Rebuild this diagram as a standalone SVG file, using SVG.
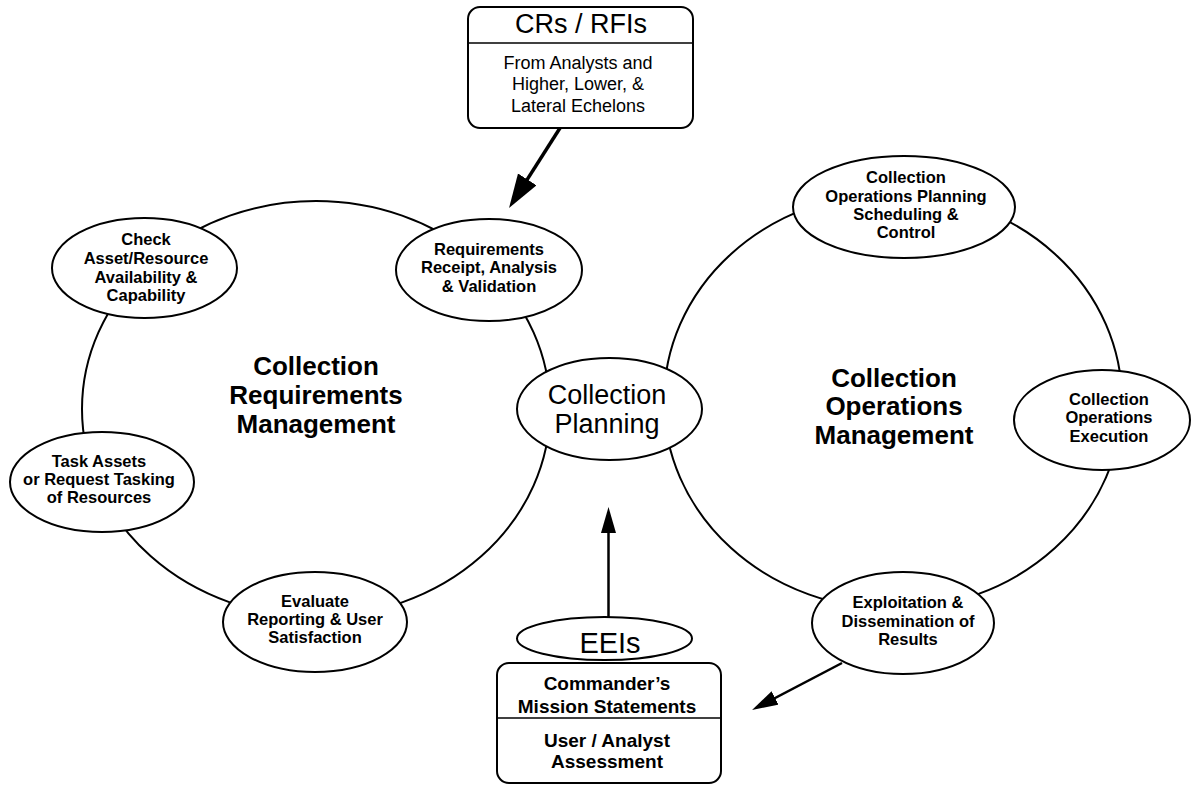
<svg xmlns="http://www.w3.org/2000/svg" width="1191" height="785" viewBox="0 0 1191 785">
<style>
.bg{fill:#fff}
.ring{fill:none;stroke:#000;stroke-width:2}
.node{fill:#fff;stroke:#000;stroke-width:2}
.t{font-family:"Liberation Sans",Arial,Helvetica,sans-serif;font-weight:bold;font-size:16.5px;text-anchor:middle;fill:#000}
.big{font-family:"Liberation Sans",Arial,Helvetica,sans-serif;font-weight:bold;font-size:26px;text-anchor:middle;fill:#000}
.reg{font-family:"Liberation Sans",Arial,Helvetica,sans-serif;font-weight:normal;text-anchor:middle;fill:#000}
.bx{font-family:"Liberation Sans",Arial,Helvetica,sans-serif;font-weight:bold;font-size:19px;text-anchor:middle;fill:#000}
.conn{fill:none;stroke:#000;stroke-width:2.5}
.div{stroke:#000;stroke-width:1.5}
</style>
<defs>
<marker id="headL" markerUnits="userSpaceOnUse" markerWidth="36" markerHeight="24" refX="24" refY="11" orient="auto">
<path d="M0,0 L34,11 L0,22 z" fill="#000"/>
</marker>
<marker id="headM" markerUnits="userSpaceOnUse" markerWidth="28" markerHeight="16" refX="16" refY="7.5" orient="auto">
<path d="M0,0 L26,7.5 L0,15 z" fill="#000"/>
</marker>
</defs>
<rect class="bg" x="0" y="0" width="1191" height="785"/>

<g id="ring-requirements">
<ellipse class="ring" cx="316" cy="409" rx="234" ry="208"/>
<text class="big" x="316" y="375">Collection</text>
<text class="big" x="316" y="404">Requirements</text>
<text class="big" x="316" y="433">Management</text>
</g>

<g id="ring-operations">
<ellipse class="ring" cx="893" cy="401" rx="229" ry="208"/>
<text class="big" x="894" y="387">Collection</text>
<text class="big" x="894" y="415">Operations</text>
<text class="big" x="894" y="444">Management</text>
</g>

<g id="connectors">
<line class="conn" style="stroke-width:3.5" x1="560" y1="128" x2="514.4" y2="199.6" marker-end="url(#headL)"/>
<line class="conn" x1="608.5" y1="617" x2="608.5" y2="517" marker-end="url(#headM)"/>
<line class="conn" x1="842" y1="663" x2="760.9" y2="705.4" marker-end="url(#headM)"/>
</g>

<g id="crs-rfis">
<rect class="node" x="468" y="7" width="225" height="121" rx="12"/>
<line class="div" x1="468" y1="43" x2="693" y2="43"/>
<text class="reg" x="581" y="33" font-size="27">CRs / RFIs</text>
<text class="reg" x="578" y="69" font-size="18">From Analysts and</text>
<text class="reg" x="578" y="90" font-size="18">Higher, Lower, &amp;</text>
<text class="reg" x="578" y="112" font-size="18">Lateral Echelons</text>
</g>

<g id="check-asset">
<ellipse class="node" cx="144.5" cy="268" rx="92.5" ry="50"/>
<text class="t" x="146" y="245">Check</text>
<text class="t" x="146" y="264">Asset/Resource</text>
<text class="t" x="146" y="282.5">Availability &amp;</text>
<text class="t" x="146" y="301">Capability</text>
</g>

<g id="requirements-receipt">
<ellipse class="node" cx="489" cy="270" rx="93" ry="51"/>
<text class="t" x="489" y="255">Requirements</text>
<text class="t" x="489" y="273">Receipt, Analysis</text>
<text class="t" x="489" y="292">&amp; Validation</text>
</g>

<g id="task-assets">
<ellipse class="node" cx="102" cy="482" rx="92" ry="50"/>
<text class="t" x="99" y="467">Task Assets</text>
<text class="t" x="99" y="485">or Request Tasking</text>
<text class="t" x="99" y="503">of Resources</text>
</g>

<g id="evaluate-reporting">
<ellipse class="node" cx="315" cy="622" rx="92" ry="50"/>
<text class="t" x="315" y="607">Evaluate</text>
<text class="t" x="315" y="625">Reporting &amp; User</text>
<text class="t" x="315" y="643">Satisfaction</text>
</g>

<g id="collection-planning">
<ellipse class="node" cx="609.5" cy="409" rx="92.5" ry="51"/>
<text class="reg" x="607" y="404" font-size="27">Collection</text>
<text class="reg" x="607" y="433" font-size="27">Planning</text>
</g>

<g id="ops-planning">
<ellipse class="node" cx="904" cy="207" rx="111" ry="51"/>
<text class="t" x="906" y="183">Collection</text>
<text class="t" x="906" y="202">Operations Planning</text>
<text class="t" x="906" y="220">Scheduling &amp;</text>
<text class="t" x="906" y="238">Control</text>
</g>

<g id="ops-execution">
<ellipse class="node" cx="1102" cy="420" rx="88" ry="50"/>
<text class="t" x="1109" y="405">Collection</text>
<text class="t" x="1109" y="423">Operations</text>
<text class="t" x="1109" y="442">Execution</text>
</g>

<g id="exploitation">
<ellipse class="node" cx="903" cy="623" rx="91" ry="51"/>
<text class="t" x="908" y="608">Exploitation &amp;</text>
<text class="t" x="908" y="627">Dissemination of</text>
<text class="t" x="908" y="645">Results</text>
</g>

<g id="eeis">
<ellipse class="node" cx="604.5" cy="638.5" rx="87.5" ry="21.5"/>
<text class="reg" x="610" y="653" font-size="29">EEIs</text>
</g>

<g id="commander-box">
<rect class="node" x="497" y="663" width="224" height="120" rx="12"/>
<line class="div" x1="497" y1="718" x2="721" y2="718"/>
<text class="bx" x="607" y="690">Commander’s</text>
<text class="bx" x="607" y="713">Mission Statements</text>
<text class="bx" x="607" y="747">User / Analyst</text>
<text class="bx" x="607" y="768">Assessment</text>
</g>
</svg>
